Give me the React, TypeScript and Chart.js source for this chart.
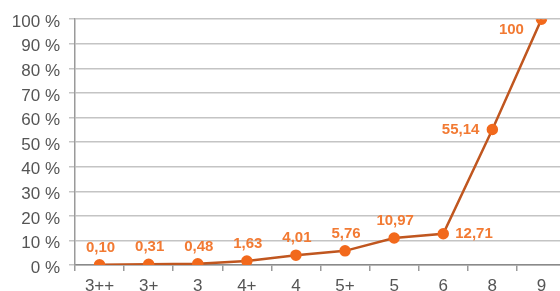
import React, { useEffect, useRef } from "react";
import { Chart, registerables } from "chart.js";

Chart.register(...registerables);

const categories = ["3++", "3+", "3", "4+", "4", "5+", "5", "6", "8", "9"];
const values = [0.1, 0.31, 0.48, 1.63, 4.01, 5.76, 10.97, 12.71, 55.14, 100];
const valueLabels = ["0,10", "0,31", "0,48", "1,63", "4,01", "5,76", "10,97", "12,71", "55,14", "100"];
const yTicks = [0, 10, 20, 30, 40, 50, 60, 70, 80, 90, 100];

// label placement per point: "above" | "right" | "left" | "belowLeft"
const labelPlacement = ["above", "above", "above", "above", "above", "above", "above", "right", "left", "belowLeft"];

const FONT = "'Liberation Sans', Arial, sans-serif";

const dataLabelPlugin = {
  id: "dataLabels",
  afterDatasetsDraw(chart: any) {
    const meta = chart.getDatasetMeta(0);
    const ctx = chart.ctx;
    ctx.save();
    ctx.font = `bold 15px ${FONT}`;
    ctx.fillStyle = "#f27a33";
    ctx.textBaseline = "middle";
    meta.data.forEach((pt: any, i: number) => {
      const txt = valueLabels[i];
      const p = labelPlacement[i];
      if (p === "above") {
        ctx.textAlign = "center";
        ctx.fillText(txt, pt.x + 1, pt.y - 17);
      } else if (p === "right") {
        ctx.textAlign = "left";
        ctx.fillText(txt, pt.x + 12, pt.y);
      } else if (p === "left") {
        ctx.textAlign = "right";
        ctx.fillText(txt, pt.x - 13, pt.y);
      } else {
        ctx.textAlign = "center";
        ctx.fillText(txt, pt.x - 30, pt.y + 11);
      }
    });
    ctx.restore();
  },
};

export default function App() {
  const ref = useRef<HTMLCanvasElement>(null);
  useEffect(() => {
    if (!ref.current) return;
    const chart = new Chart(ref.current, {
      type: "line",
      data: {
        labels: categories,
        datasets: [
          {
            data: values,
            borderColor: "#c0561f",
            borderWidth: 2.5,
            pointBackgroundColor: "#f2691c",
            pointBorderColor: "#f2691c",
            pointRadius: 4.5,
            tension: 0,
          },
        ],
      },
      options: {
        responsive: false,
        animation: false,
        devicePixelRatio: 1,
        layout: { padding: { top: 19, right: 14, left: 0, bottom: 0 } },
        plugins: { legend: { display: false }, tooltip: { enabled: false } },
        scales: {
          x: {
            type: "category",
            offset: true,
            grid: {
              offset: true,
              drawOnChartArea: false,
              drawTicks: true,
              tickLength: 6,
              color: "#9a9a9a",
              lineWidth: 1.5,
            },
            border: { display: true, color: "#8a8a8a", width: 1.5 },
            ticks: {
              font: { family: FONT, size: 17 },
              color: "#555555",
              padding: 5,
              maxRotation: 0,
              autoSkip: false,
            },
            afterFit(scale: any) {
              scale.height = 35;
            },
          },
          y: {
            min: 0,
            max: 100,
            afterBuildTicks(scale: any) {
              scale.ticks = yTicks.map((v) => ({ value: v }));
            },
            grid: {
              color: "#c4c4c4",
              lineWidth: 1.5,
              drawTicks: true,
              tickLength: 6,
            },
            border: { display: true, color: "#9a9a9a", width: 1.5 },
            ticks: {
              font: { family: FONT, size: 17 },
              color: "#555555",
              padding: 9,
              labelOffset: 3,
              callback: (v: any) => `${v} %`,
            },
            afterFit(scale: any) {
              scale.width = 75;
            },
          },
        },
      },
      plugins: [dataLabelPlugin],
    });
    return () => chart.destroy();
  }, []);

  return (
    <div
      style={{
        position: "fixed",
        left: 0,
        top: 0,
        width: 560,
        height: 291,
        overflow: "hidden",
        background: "#ffffff",
      }}
    >
      <canvas ref={ref} width={580} height={300} style={{ width: 580, height: 300, display: "block" }} />
    </div>
  );
}
